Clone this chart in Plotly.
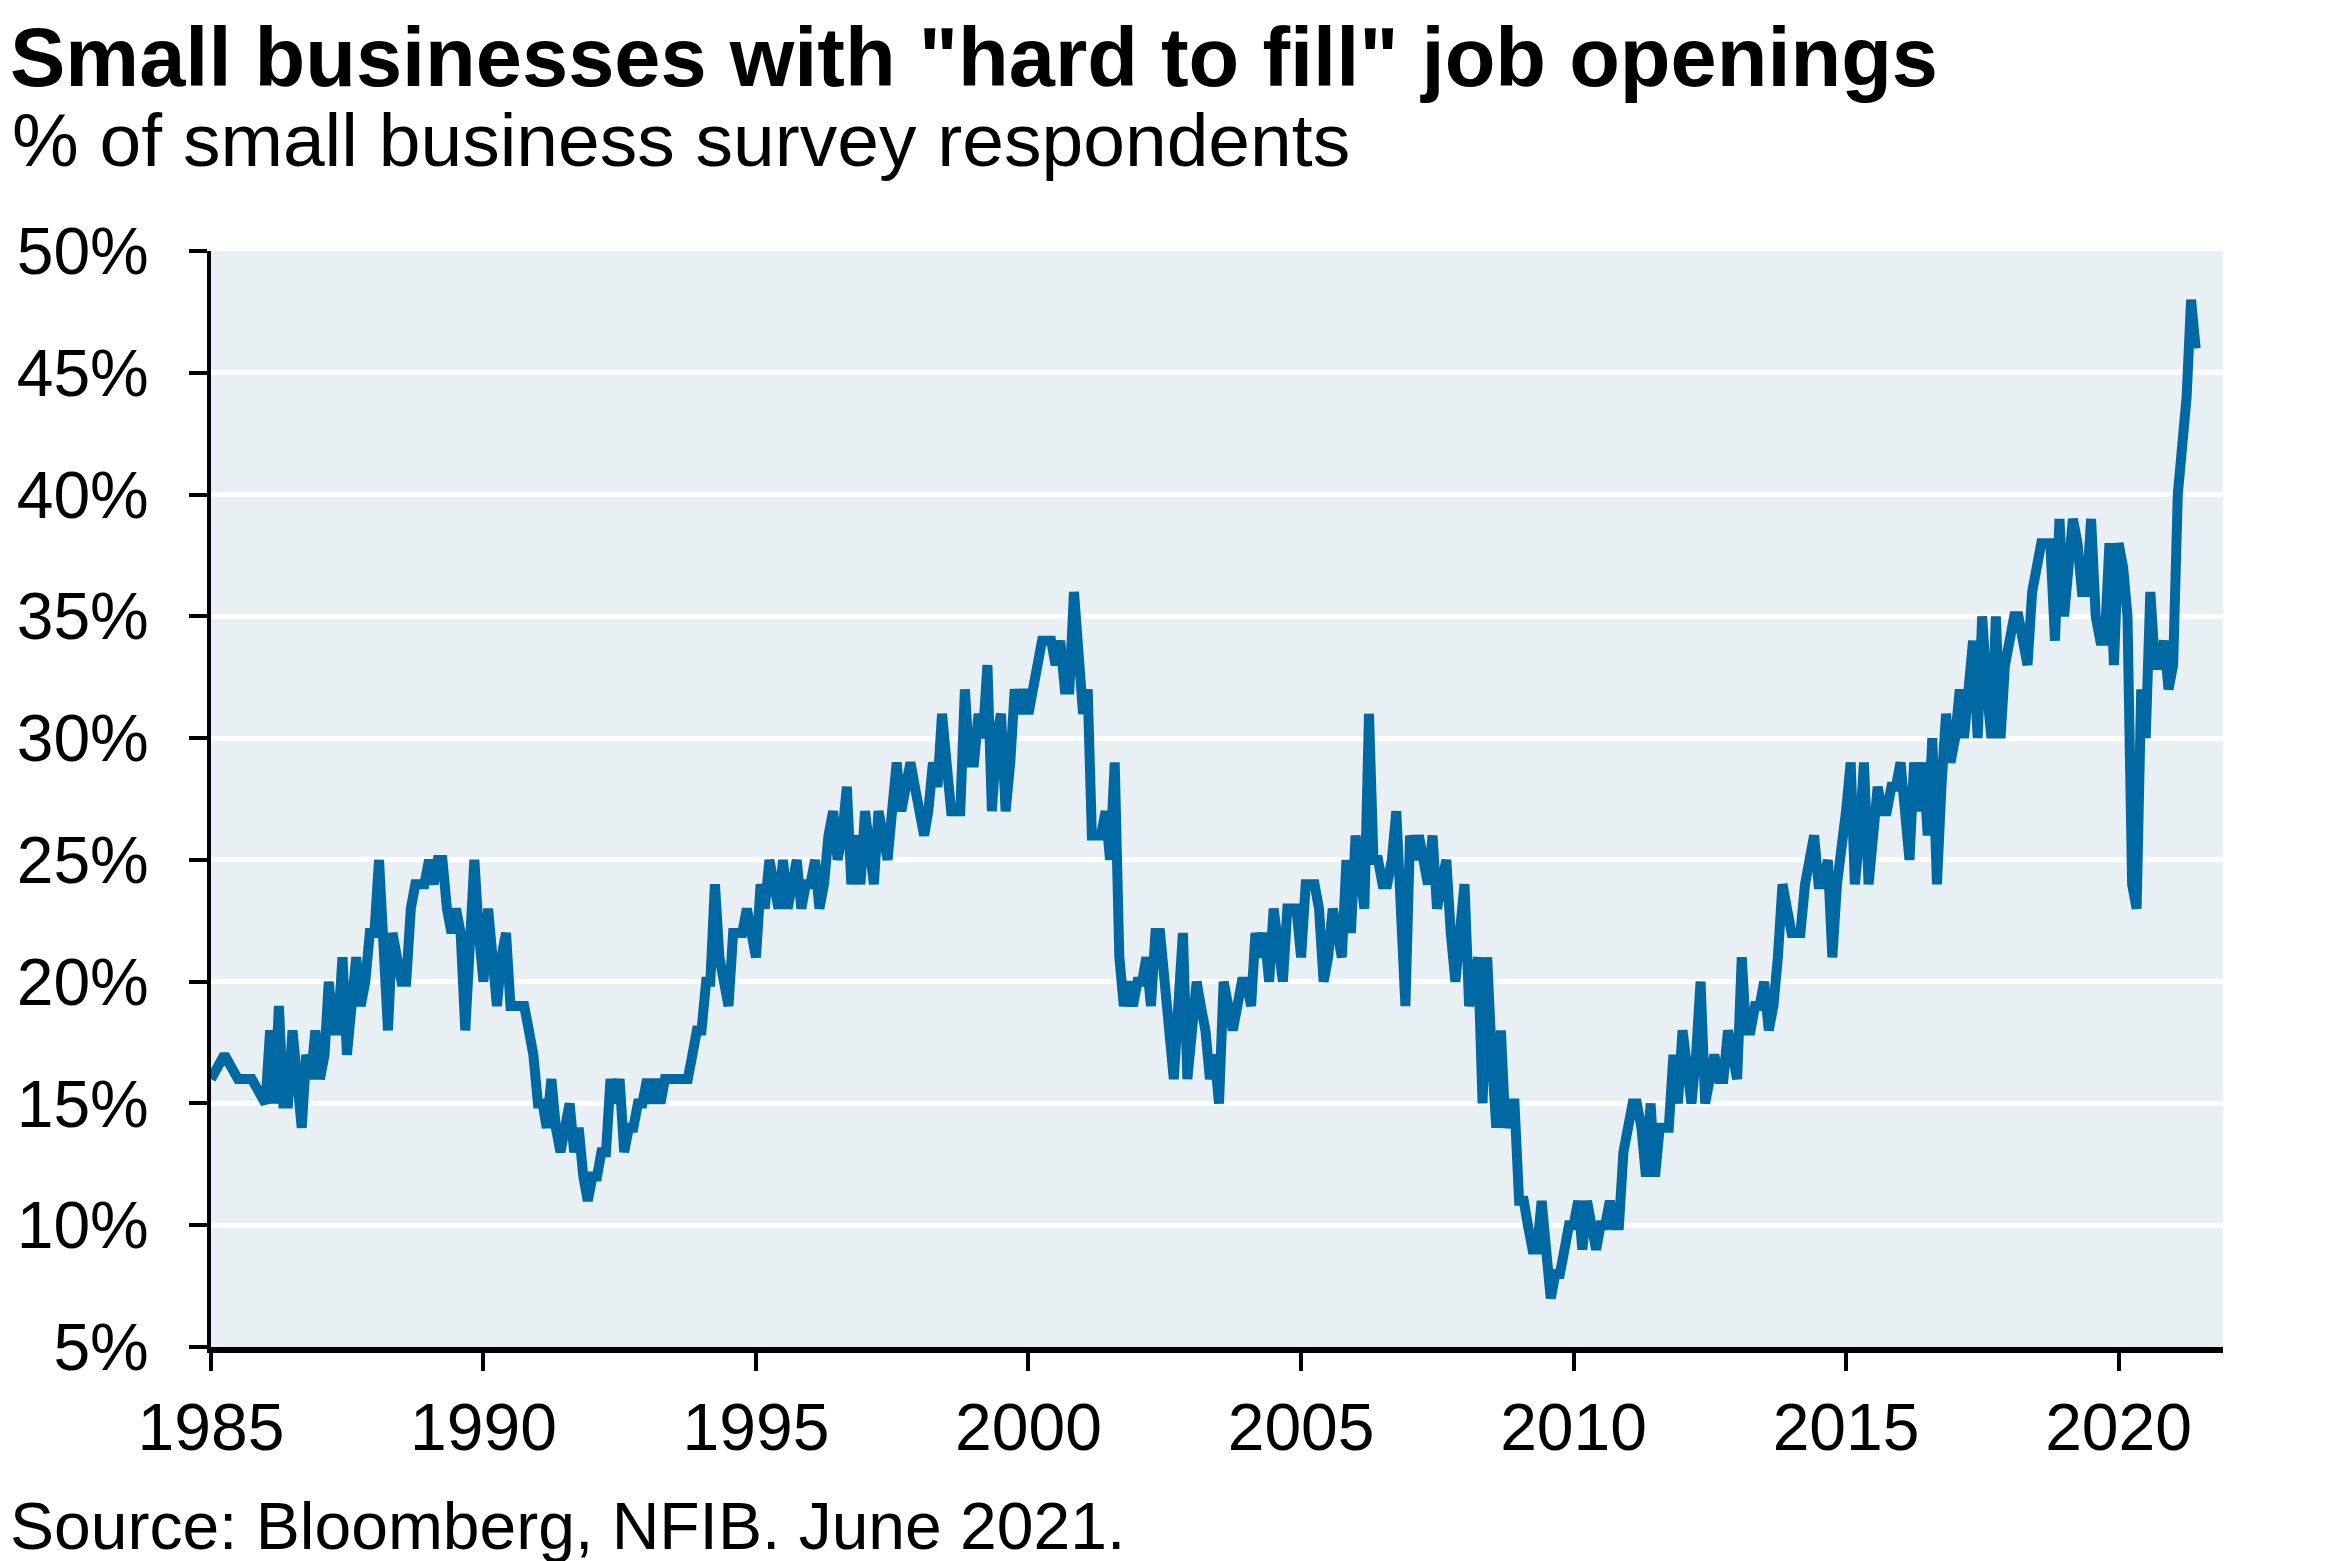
import pandas as pd
import plotly.graph_objects as go

# ---------------- data ----------------
quarterly_dates_1985 = ["1985-01-01", "1985-04-01", "1985-07-01", "1985-10-01"]
values_1985 = [16, 17, 16, 16]

v1986 = [15, 18, 15, 19, 15, 15, 18, 16, 14, 17, 16, 18]
v1987 = [16, 17, 20, 18, 18, 21, 17, 19, 21, 19, 20, 22]
v1988 = [22, 25, 21, 18, 22, 21, 20, 20, 23, 24, 24, 24]
v1989 = [25, 24, 25, 25, 23, 22, 23, 22, 18, 22, 25, 22]
v1990 = [20, 23, 21, 19, 21, 22, 19, 19, 19, 19, 18, 17]
v1991 = [15, 15, 14, 16, 14, 13, 14, 15, 13, 14, 12, 11]
v1992 = [12, 12, 13, 13, 16, 15, 16, 13, 14, 14, 15, 15]
v1993 = [16, 15, 16, 15, 16, 16, 16, 16, 16, 16, 17, 18]
v1994 = [18, 20, 20, 24, 21, 20, 19, 22, 22, 22, 23, 22]
v1995 = [21, 24, 23, 25, 24, 23, 25, 23, 24, 25, 23, 24]
v1996 = [24, 25, 23, 24, 26, 27, 25, 26, 28, 24, 26, 24]
v1997 = [27, 25, 24, 27, 26, 25, 27, 29, 27, 28, 29, 28]
v1998 = [27, 26, 27, 29, 28, 31, 29, 27, 27, 27, 32, 29]
v1999 = [29, 31, 30, 33, 27, 30, 31, 27, 29, 32, 31, 32]
v2000 = [31, 32, 33, 34, 34, 34, 33, 34, 32, 32, 36, 33]
v2001 = [31, 32, 26, 26, 26, 27, 25, 29, 21, 19, 20, 19]
v2002 = [20, 20, 21, 19, 22, 22, 20, 18, 16, 19, 22, 16]
v2003 = [18, 20, 19, 18, 16, 17, 15, 20, 19, 18, 19, 20]
v2004 = [20, 19, 22, 21, 22, 20, 23, 21, 20, 23, 23, 23]
v2005 = [21, 24, 24, 24, 23, 20, 21, 23, 22, 21, 25, 22]
v2006 = [26, 24, 23, 31, 25, 25, 24, 24, 25, 27, 23, 19]
v2007 = [26, 25, 26, 25, 24, 26, 23, 24, 25, 22, 20, 22]
v2008 = [24, 19, 20, 21, 15, 21, 17, 14, 18, 14, 15, 15]
v2009 = [11, 11, 10, 9, 9, 11, 9, 7, 8, 8, 9, 10]
v2010 = [10, 11, 9, 11, 10, 9, 10, 10, 11, 10, 10, 13]
v2011 = [14, 15, 15, 14, 12, 15, 12, 14, 14, 14, 17, 15]
v2012 = [18, 16, 15, 17, 20, 15, 16, 17, 16, 16, 18, 17]
v2013 = [16, 21, 18, 18, 19, 19, 20, 18, 19, 21, 24, 23]
v2014 = [22, 22, 22, 24, 25, 26, 24, 24, 25, 21, 24, 26]
v2015 = [27, 29, 24, 26, 29, 24, 26, 28, 27, 27, 28, 28]
v2016 = [29, 27, 25, 29, 27, 29, 26, 30, 24, 28, 31, 29]
v2017 = [30, 32, 30, 32, 34, 30, 35, 32, 30, 35, 30, 33]
v2018 = [34, 35, 35, 34, 33, 36, 37, 38, 38, 38, 34, 39]
v2019 = [35, 37, 39, 38, 36, 36, 39, 35, 34, 34, 38, 33]
v2020 = [38, 37, 35, 24, 23, 32, 30, 36, 33, 33, 34, 32]
v2021 = [33, 40, 42, 44, 48, 46]

tick_years = [1985, 1990, 1995, 2000, 2005, 2010, 2015, 2020]
y_ticks = [5, 10, 15, 20, 25, 30, 35, 40, 45, 50]

monthly_values = (v1986 + v1987 + v1988 + v1989 + v1990 + v1991 + v1992 + v1993 +
                  v1994 + v1995 + v1996 + v1997 + v1998 + v1999 + v2000 + v2001 +
                  v2002 + v2003 + v2004 + v2005 + v2006 + v2007 + v2008 + v2009 +
                  v2010 + v2011 + v2012 + v2013 + v2014 + v2015 + v2016 + v2017 +
                  v2018 + v2019 + v2020 + v2021)
monthly_dates = pd.date_range("1986-01-01", periods=len(monthly_values), freq="MS")

x_all = list(pd.to_datetime(quarterly_dates_1985)) + list(monthly_dates)
y_all = values_1985 + monthly_values

# ---------------- figure ----------------
W, H = 2341, 1561
ML, MR, MT, MB = 203, 126, 243, 222
PW, PH = W - ML - MR, H - MT - MB
FONT = "Arial, Liberation Sans, Helvetica, sans-serif"

fig = go.Figure()
fig.add_trace(go.Scatter(
    x=x_all, y=y_all, mode="lines",
    line=dict(color="#0068A3", width=10),
    hoverinfo="skip", showlegend=False,
))

fig.update_layout(
    width=W, height=H,
    margin=dict(l=ML, r=MR, t=MT, b=MB, pad=0, autoexpand=False),
    paper_bgcolor="white",
    plot_bgcolor="#E8F0F3",
    font=dict(family=FONT, color="black"),
    showlegend=False,
)

fig.update_xaxes(
    type="date",
    range=["1985-01-01", "2021-12-01"],
    tickvals=[f"{y}-01-01" for y in tick_years],
    ticktext=[str(y) for y in tick_years],
    ticks="outside", ticklen=18, tickwidth=4, tickcolor="black",
    showline=True, linewidth=6, linecolor="black",
    showgrid=False, zeroline=False, automargin=False,
    tickfont=dict(size=66, family=FONT, color="black"),
    ticklabelstandoff=0,
)

fig.update_yaxes(
    range=[5, 50],
    tickvals=y_ticks,
    ticktext=[f"{v}%" for v in y_ticks],
    ticks="outside", ticklen=18, tickwidth=4, tickcolor="black",
    showline=True, linewidth=4, linecolor="black",
    showgrid=True, gridcolor="white", gridwidth=5,
    zeroline=False, automargin=False,
    tickfont=dict(size=66, family=FONT, color="black"),
    ticklabelstandoff=27,
)

def px_x(px):
    return (px - ML) / PW

def px_y(py):
    return 1 - (py - MT) / PH

fig.add_annotation(
    text='<b>Small businesses with "hard to fill" job openings</b>',
    xref="paper", yref="paper", x=px_x(0), y=px_y(50),
    xanchor="left", yanchor="middle", showarrow=False,
    font=dict(size=83, family=FONT, color="black"),
)
fig.add_annotation(
    text="% of small business survey respondents",
    xref="paper", yref="paper", x=px_x(2), y=px_y(132),
    xanchor="left", yanchor="middle", showarrow=False,
    font=dict(size=75, family=FONT, color="black"),
)
fig.add_annotation(
    text="Source: Bloomberg, NFIB. June 2021.",
    xref="paper", yref="paper", x=px_x(0), y=px_y(1518),
    xanchor="left", yanchor="middle", showarrow=False,
    font=dict(size=66, family=FONT, color="black"),
)

fig.write_html("out.html")
